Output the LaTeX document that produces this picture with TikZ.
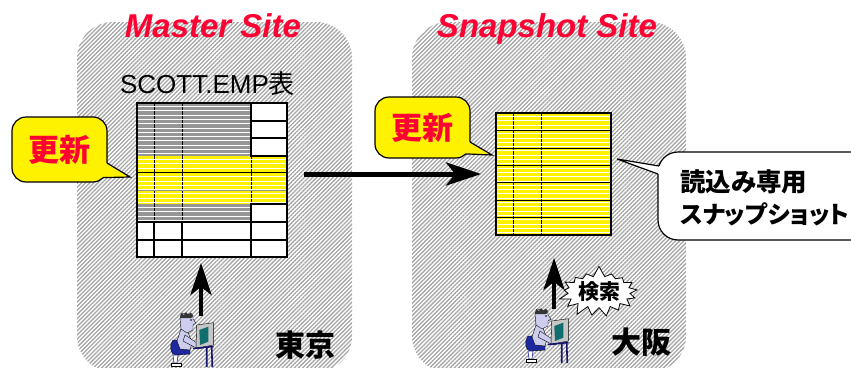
\documentclass[tikz,border=0pt]{standalone}
\usepackage{fontspec}
\setmainfont{Liberation Sans}
\newfontfamily\jp{Noto Sans CJK JP}[RawFeature=+palt]
\usetikzlibrary{arrows.meta,positioning,shapes.symbols,patterns.meta,calc}

\definecolor{sitered}{RGB}{255,0,51}
\definecolor{rowgray}{RGB}{150,150,150}
\definecolor{hatch}{RGB}{165,165,165}
\definecolor{skin}{RGB}{205,205,240}
\definecolor{pants}{RGB}{30,40,160}
\definecolor{screen}{RGB}{16,110,110}
\definecolor{desk}{RGB}{20,20,110}

% small clip-art operator at a terminal (local units, y down)
\tikzset{
  operator/.pic={
    \filldraw[fill=pants, draw=black, line width=0.4pt]
      (8,27) -- (15,27) -- (17,36) -- (25,37) -- (25,41) -- (11,42)
      .. controls (5,42) and (4,32) .. (8,27) -- cycle;
    \filldraw[fill=white, draw=pants, line width=0.6pt] (8,42) -- (13,42) -- (12,50) -- (9,50) -- cycle;
    \filldraw[fill=white, draw=black, line width=0.4pt] (6,50) rectangle (16,53);
    \filldraw[fill=skin, draw=black, line width=0.4pt] (16,16) -- (23,19) -- (27,30) -- (25,37) -- (15,36) -- (12,28) -- cycle;
    \filldraw[fill=skin, draw=black, line width=0.4pt] (20,22) -- (35,32) -- (37,35) -- (33,36) -- (18,28) -- cycle;
    \filldraw[fill=skin, draw=black, line width=0.4pt] (15,5) -- (17,0) -- (28,2) -- (28,6) -- (31,10) -- (28,12) -- (28,17) -- (22,20) -- (16,16) -- cycle;
    \fill[black!80] (15,5) -- (16,0) -- (19,2) -- (21,-1) -- (23,1.5) -- (26,-0.5) -- (28,3) -- (26,5) -- (19,5) -- cycle;
    \fill (26,7) circle (0.8);
    \filldraw[fill=gray!45, draw=black, line width=0.4pt] (31.7,12) -- (48.3,9.7) -- (48.3,32) -- (31,35.3) -- cycle;
    \fill[screen] (34.3,17) -- (43.3,13.7) -- (43.3,28.7) -- (35,32) -- cycle;
    \draw[desk, line width=1.6pt] (28,35.5) -- (48.5,33.5);
    \draw[desk, line width=1.6pt] (41.7,34) -- (41.7,54) (46.7,33.8) -- (47.3,54);
  }
}

\begin{document}
\begin{tikzpicture}[
  x=1pt,y=-1pt,
  site/.style={rounded corners=36pt, pattern={Lines[angle=45,distance=2.9pt,line width=1.3pt]}, pattern color=hatch},
  sitetitle/.style={anchor=base, text=sitered, font=\fontsize{33}{36}\selectfont\bfseries\itshape},
  bubble/.style={draw, line width=1.2pt, rounded corners=14pt, fill=yellow, text=sitered, minimum width=95pt, font=\jp\fontsize{31}{34}\selectfont\bfseries},
  robubble/.style={draw, line width=1.2pt, rounded corners=20pt, fill=white, minimum width=228pt, minimum height=88pt},
  rotext/.style={anchor=west, align=left, inner sep=0pt, font=\jp\bfseries},
  tblframe/.style={draw, line width=1.8pt},
  cell/.style={draw, fill=white, line width=1.8pt},
  stripe/.style={white, line width=0.9pt},
  place/.style={font=\jp\fontsize{30}{32}\selectfont\bfseries},
  burst/.style={draw, fill=white, line width=0.8pt, starburst, starburst points=17, starburst point height=11pt, random starburst=7, inner sep=1pt, font=\jp\fontsize{21}{23}\selectfont\bfseries},
  bigarr/.style={line width=5pt, -{Stealth[length=35pt,width=23pt,inset=9pt]}},
  uparr/.style={line width=4.5pt, -{Stealth[length=32pt,width=21pt,inset=8pt]}}
]
\useasboundingbox (0,0) rectangle (851,367);
\clip (0,0) rectangle (851,367);

% the two sites
\path[site] (77,22) rectangle (352,372);
\path[site] (412,22) rectangle (686,372);
\node[sitetitle] (mtitle) at (213,37) {Master Site};
\node[sitetitle] (stitle) at (547,37) {Snapshot Site};

% master table
\node[anchor=base, font=\fontsize{26}{28}\selectfont] (emplabel) at (207.5,93) {SCOTT.EMP{\jp 表}};
\fill[rowgray] (137,103) rectangle (251,222);
\fill[yellow] (137,156) rectangle (287,204);
\foreach \cx in {154,182}
  \draw[line width=0.9pt] (\cx,103) -- (\cx,222);
\draw[line width=0.9pt] (251,156) -- (251,204);
\foreach \ry in {106.5,110.8,...,154}
  \draw[stripe] (137,\ry) -- (251,\ry);
\foreach \ry in {159.5,163.8,...,203}
  \draw[stripe] (137,\ry) -- (287,\ry);
\foreach \ry in {207.5,211.8,...,221}
  \draw[stripe] (137,\ry) -- (251,\ry);
\draw[line width=0.8pt] (137,172) -- (287,172);
\draw[rowgray, line width=0.8pt] (137,190) -- (287,190);
\draw[cell] (251,103) rectangle (287,121);
\draw[cell] (251,121) rectangle (287,138);
\draw[cell] (251,138) rectangle (287,156);
\draw[cell] (251,204) rectangle (287,222);
\draw[cell] (137,222) rectangle (287,257);
\draw[line width=1.8pt] (137,240) -- (287,240);
\foreach \cx in {154,182,251}
  \draw[line width=1.8pt] (\cx,222) -- (\cx,257);
\node[tblframe, minimum width=150pt, minimum height=154pt] (master) at (212,180) {};

% snapshot table
\fill[yellow] (496,113) rectangle (611,235);
\foreach \cx in {513,541}
  \draw[line width=0.9pt] (\cx,113) -- (\cx,235);
\foreach \ry in {116.5,120.8,...,234}
  \draw[stripe] (496,\ry) -- (611,\ry);
\foreach \ry in {130.5,147.9,...,218}
  \draw[line width=0.8pt] (496,\ry) -- (611,\ry);
\node[tblframe, minimum width=115pt, minimum height=122pt] (snap) at (553.5,174) {};

% refresh
\draw[bigarr, shorten <=16pt, shorten >=14pt] (master.east |- snap.center) -- (snap.west);

% callouts
\node[bubble, minimum height=65pt] (upd1) at (59.5,149.5) {更新};
\coordinate (upd1tip) at (130,177);
\fill[yellow] (107,163) -- (upd1tip) -- (102.6,177.6) -- (95,165) -- cycle;
\draw[line width=1.2pt] (107,163) -- (upd1tip) -- (102.6,177.6);

\node[bubble, minimum height=61pt] (upd2) at (422.5,127.5) {更新};
\coordinate (upd2tip) at (492,155);
\fill[yellow] (470,142) -- (upd2tip) -- (465.9,153.9) -- (458,140) -- cycle;
\draw[line width=1.2pt] (470,142) -- (upd2tip) -- (465.9,153.9);

\node[robubble] (ro) at (772,196) {};
\node[rotext] (rolabel) at (680,198)
  {\fontsize{25.5}{32}\selectfont 読込み専用\\[7pt]\fontsize{24}{32}\selectfont スナップショット};
\coordinate (rotip) at (617,159);
\fill[white] (658.9,166) -- (rotip) -- (658,174) -- (670,170) -- cycle;
\draw[line width=1.2pt] (658.9,166) -- (rotip) -- (658,174);

% operators
\pic at (165,313) {operator};
\pic at (520,309) {operator};
\coordinate (opT) at (201,316);
\coordinate (opO) at (554,309);
\draw[uparr, shorten >=5pt] (opT) -- (opT |- master.south);
\draw[uparr, shorten >=22pt] (opO) -- (opO |- snap.south);
\node[burst] (search) at (599,292) {検索};

\node[place] (tokyo) at (305,345) {東京};
\node[place] (osaka) at (641,342) {大阪};
\end{tikzpicture}
\end{document}
